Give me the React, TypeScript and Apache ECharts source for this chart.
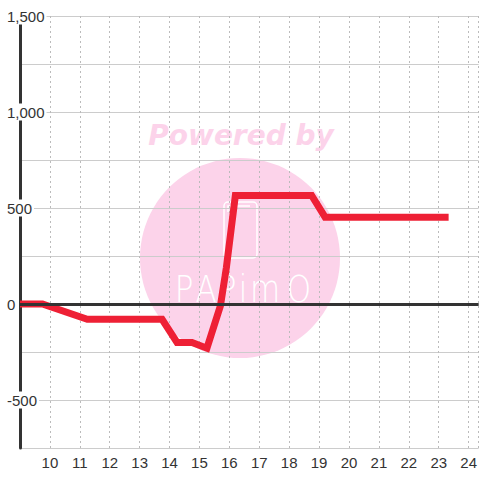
import React, { useEffect, useRef } from "react";
import * as echarts from "echarts";

const xValues = [9, 9.75, 11.25, 13.75, 14.25, 14.75, 15.25, 15.7, 15.9, 16.2, 18.75, 19.2, 23.33];
const yValues = [0, 0, -80, -80, -200, -200, -230, -10, 190, 565, 565, 452, 452];
const xTickLabels = [10, 11, 12, 13, 14, 15, 16, 17, 18, 19, 20, 21, 22, 23, 24];
const yTickLabels = [-500, 0, 500, 1000, 1500];

const FONT = "'Liberation Sans', Arial, sans-serif";

export default function App() {
  const ref = useRef<HTMLDivElement>(null);
  useEffect(() => {
    if (!ref.current) return;
    const chart = echarts.init(ref.current, undefined, { renderer: "svg" });
    const wmPink = "#fcd3ea";
    const letters = [
      { t: "P", x: 184 },
      { t: "A", x: 206 },
      { t: "P", x: 227 },
      { t: "i", x: 243 },
      { t: "m", x: 265 },
      { t: "O", x: 299 },
    ];
    chart.setOption({
      animation: false,
      backgroundColor: "#fff",
      textStyle: { fontFamily: FONT },
      grid: { left: 20, right: 0, top: 16, bottom: 32 },
      graphic: {
        elements: [
          {
            type: "text",
            z: -10,
            x: 241,
            y: 135,
            style: {
              text: "Powered by",
              align: "center",
              verticalAlign: "middle",
              fill: wmPink,
              font: "italic bold 28px 'DejaVu Sans'",
            },
          },
          {
            type: "circle",
            z: -10,
            shape: { cx: 240, cy: 258, r: 100 },
            style: { fill: wmPink },
          },
          {
            type: "rect",
            z: -9,
            shape: { x: 224, y: 202, width: 33, height: 56, r: 4 },
            style: { fill: "none", stroke: "#fff", lineWidth: 1.5 },
          },
          {
            type: "polyline",
            z: -9,
            shape: { points: [[228, 212], [228, 206], [250, 206]] },
            style: { fill: "none", stroke: "#fff", lineWidth: 1.5 },
          },
          ...letters.map((l) => ({
            type: "text",
            z: -9,
            x: l.x,
            y: 289,
            scaleY: 1.2,
            style: {
              text: l.t,
              align: "center",
              verticalAlign: "middle",
              fill: "#fff",
              font: "200 31px 'DejaVu Sans'",
            },
          })),
        ],
      },
      xAxis: {
        type: "value",
        min: 9,
        max: 9 + 460 / 30,
        interval: 1,
        axisLine: { show: false },
        axisTick: { show: false },
        axisLabel: {
          customValues: xTickLabels,
          color: "#333",
          fontSize: 15,
          margin: 7,
          fontFamily: FONT,
        },
        splitLine: {
          show: true,
          lineStyle: { color: "#bbb", width: 1, type: [2, 3] },
        },
      },
      yAxis: {
        type: "value",
        min: -750,
        max: 1500,
        interval: 250,
        axisLine: { show: true, lineStyle: { color: "#333", width: 3 } },
        axisTick: { show: false },
        axisLabel: {
          customValues: yTickLabels,
          formatter: (v: number) => v.toLocaleString("en-US"),
          color: "#333",
          fontSize: 15,
          fontFamily: FONT,
          align: "left",
          margin: 14,
          backgroundColor: "#fff",
          padding: [1, 2, 1, 1],
        },
        splitLine: { show: true, lineStyle: { color: "#ccc", width: 1 } },
      },
      series: [
        {
          type: "line",
          name: "zero",
          data: [],
          z: 1,
          silent: true,
          markLine: {
            silent: true,
            symbol: "none",
            label: { show: false },
            lineStyle: { color: "#333", width: 3, type: "solid" },
            data: [{ yAxis: 0 }],
          },
        },
        {
          type: "line",
          name: "value",
          z: 3,
          data: xValues.map((x, i) => [x, yValues[i]]),
          showSymbol: false,
          lineStyle: { color: "#ee2035", width: 7, join: "miter", cap: "butt" },
        },
      ],
    });
    return () => chart.dispose();
  }, []);
  return <div ref={ref} style={{ width: 480, height: 480, position: "absolute", left: 0, top: 0 }} />;
}
